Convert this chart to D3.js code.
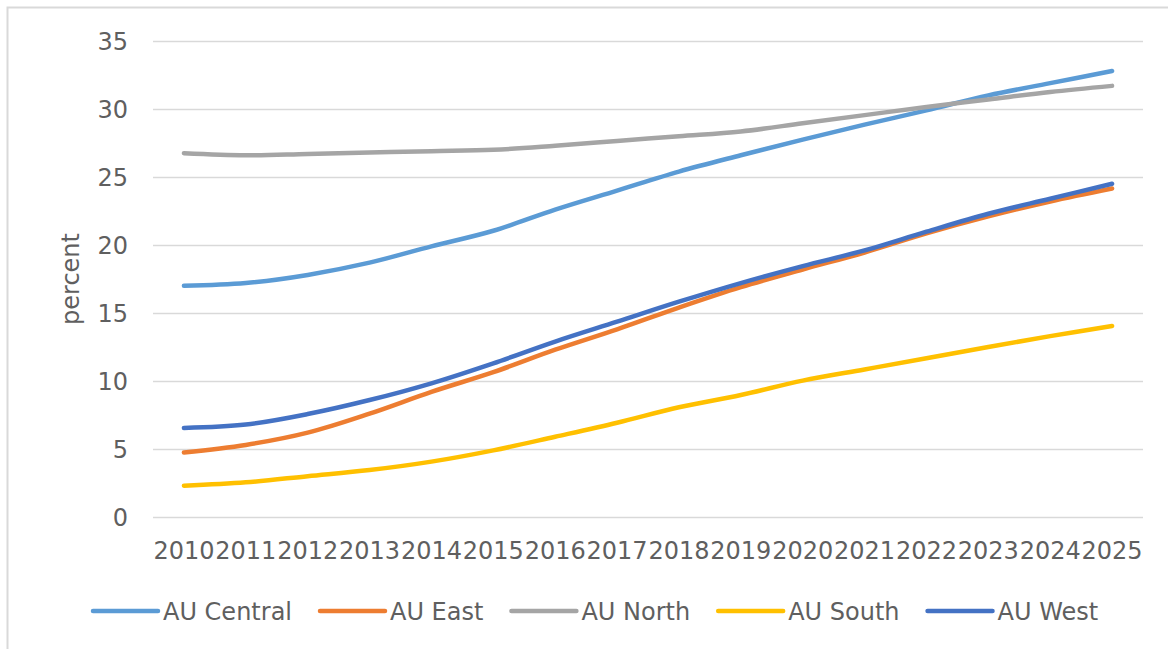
<!DOCTYPE html>
<html>
<head>
<meta charset="utf-8">
<script src="https://cdn.jsdelivr.net/npm/d3@7"></script>
<style>
  html, body { margin: 0; padding: 0; background: #ffffff; }
  svg { display: block; }
  text { font-family: "DejaVu Sans", sans-serif; fill: #5f5f5f; }
</style>
</head>
<body>
<svg id="chart" width="1168" height="649"></svg>
<script>
// Years on the category axis
const years = ["2010","2011","2012","2013","2014","2015","2016","2017",
               "2018","2019","2020","2021","2022","2023","2024","2025"];

// Share by region, percent
const auCentral = [17.0, 17.2, 17.8, 18.7, 19.9, 21.05, 22.6, 24.0, 25.4, 26.6, 27.75, 28.85, 29.9, 31.0, 31.9, 32.8];
const auEast    = [4.75, 5.3, 6.2, 7.6, 9.2, 10.65, 12.3, 13.8, 15.4, 16.9, 18.2, 19.45, 20.85, 22.1, 23.2, 24.15];
const auNorth   = [26.75, 26.6, 26.7, 26.8, 26.9, 27.0, 27.3, 27.65, 28.0, 28.35, 28.95, 29.55, 30.15, 30.7, 31.25, 31.7];
const auSouth   = [2.3, 2.55, 3.0, 3.45, 4.07, 4.9, 5.9, 6.93, 8.07, 8.97, 10.03, 10.85, 11.67, 12.5, 13.3, 14.05];
const auWest    = [6.55, 6.8, 7.57, 8.6, 9.83, 11.3, 12.9, 14.36, 15.83, 17.2, 18.45, 19.6, 20.98, 22.3, 23.4, 24.5];

const seriesNames = ["AU Central", "AU East", "AU North", "AU South", "AU West"];
const seriesValues = [auCentral, auEast, auNorth, auSouth, auWest];
const seriesColors = ["#5B9BD5", "#ED7D31", "#A5A5A5", "#FFC000", "#4472C4"];

const yTicks = [0, 5, 10, 15, 20, 25, 30, 35];

const svg = d3.select("#chart");

// chart frame
svg.append("rect")
  .attr("x", 7.5).attr("y", 7.5)
  .attr("width", 1200).attr("height", 700)
  .attr("fill", "#ffffff")
  .attr("stroke", "#d9d9d9")
  .attr("stroke-width", 2);

const plot = { left: 153, right: 1143, top: 41, bottom: 517 };

const x = d3.scaleBand()
  .domain(years)
  .range([plot.left, plot.right]);

const y = d3.scaleLinear()
  .domain([0, 35])
  .range([plot.bottom, plot.top]);

// horizontal gridlines
svg.append("g")
  .selectAll("line")
  .data(yTicks)
  .join("line")
  .attr("x1", plot.left).attr("x2", plot.right)
  .attr("y1", d => Math.round(y(d)) + 0.5)
  .attr("y2", d => Math.round(y(d)) + 0.5)
  .attr("stroke", "#d9d9d9")
  .attr("stroke-width", 1.3);

// y axis labels
const yAxis = d3.axisLeft(y).tickValues(yTicks).tickSize(0).tickPadding(0);
const yg = svg.append("g")
  .attr("transform", `translate(128,0)`)
  .call(yAxis);
yg.select(".domain").remove();
yg.selectAll("text")
  .style("font-size", "24px")
  .style("font-family", "DejaVu Sans, sans-serif")
  .attr("fill", "#5f5f5f")
  .attr("dy", "0.36em");

// x axis labels
const xAxis = d3.axisBottom(x).tickSize(0).tickPadding(0);
const xg = svg.append("g")
  .attr("transform", `translate(0,${plot.bottom})`)
  .call(xAxis);
xg.select(".domain").remove();
xg.selectAll("text")
  .style("font-size", "24px")
  .style("font-family", "DejaVu Sans, sans-serif")
  .attr("fill", "#5f5f5f")
  .attr("y", 42)
  .attr("dy", 0);

// y axis title
svg.append("text")
  .attr("transform", `translate(79,${(plot.top + plot.bottom) / 2}) rotate(-90)`)
  .attr("text-anchor", "middle")
  .style("font-size", "24px")
  .text("percent");

// series lines
const line = d3.line()
  .x((d, i) => x(years[i]) + x.bandwidth() / 2)
  .y(d => y(d))
  .curve(d3.curveCatmullRom.alpha(0.5));

svg.append("g")
  .selectAll("path")
  .data(seriesValues)
  .join("path")
  .attr("d", d => line(d))
  .attr("fill", "none")
  .attr("stroke", (d, i) => seriesColors[i])
  .attr("stroke-width", 4.5)
  .attr("stroke-linecap", "round")
  .attr("stroke-linejoin", "round");

// legend
const legend = svg.append("g").attr("transform", "translate(0,611)");
let cursor = 93;
seriesNames.forEach((name, i) => {
  legend.append("line")
    .attr("x1", cursor).attr("x2", cursor + 65)
    .attr("y1", 0).attr("y2", 0)
    .attr("stroke", seriesColors[i])
    .attr("stroke-width", 4.5)
    .attr("stroke-linecap", "round");
  const t = legend.append("text")
    .attr("x", cursor + 70)
    .attr("y", 0)
    .attr("dy", "0.36em")
    .style("font-size", "24px")
    .text(name);
  cursor += 70 + t.node().getComputedTextLength() + 28;
});
</script>
</body>
</html>
